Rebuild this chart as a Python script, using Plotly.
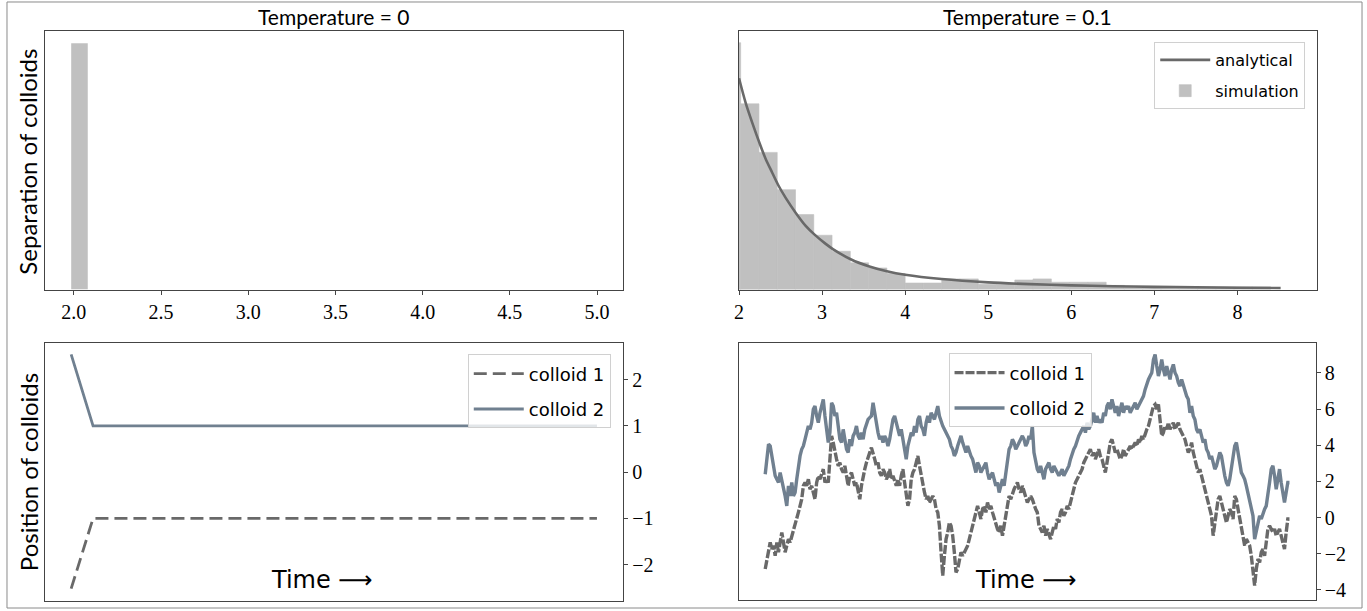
import numpy as np
import plotly.graph_objects as go

W, H = 1367, 611

# ---------------- data ----------------
# Temperature = 0 : separation histogram (single bin)
t0_bin_left = [1.985]
t0_bin_right = [2.080]
t0_height = [1.0]

# Temperature = 0.1 : separation histogram (bin edges and densities)
t01_edges = [1.80, 2.02, 2.24, 2.46, 2.68, 2.90, 3.12, 3.34, 3.56, 3.78, 4.00,
             4.22, 4.44, 4.66, 4.88, 5.10, 5.32, 5.54, 5.76, 5.98, 6.20, 6.42,
             6.64, 6.86, 7.08, 7.30, 7.52, 7.74, 7.96, 8.18, 8.40]
t01_density = [1.555, 1.170, 0.864, 0.629, 0.472, 0.342, 0.241, 0.168, 0.136, 0.101,
               0.041, 0.041, 0.067, 0.067, 0.033, 0.033, 0.060, 0.067, 0.046, 0.046,
               0.046, 0.026, 0.017, 0.017, 0.017, 0.017, 0.017, 0.017, 0.017, 0.017]

# analytical curve
ana_r = [2.0, 2.08, 2.16, 2.25, 2.32, 2.40, 2.47, 2.56, 2.69, 2.80, 2.91, 3.04, 3.13,
         3.35, 3.57, 3.78, 4.0, 4.44, 5.0, 5.5, 6.0, 6.5, 7.0, 7.5, 8.0, 8.52]
ana_p = [1.331, 1.176, 1.050, 0.918, 0.824, 0.736, 0.660, 0.579, 0.478, 0.403, 0.346,
         0.289, 0.255, 0.189, 0.145, 0.115, 0.093, 0.066, 0.045, 0.034, 0.026, 0.021,
         0.017, 0.014, 0.011, 0.009]

# Temperature = 0 : positions
pos1_t0 = [-2.52] + [-1.0] * 24
pos2_t0 = [2.55] + [1.0] * 24

# Temperature = 0.1 : positions
pos1_t01 = [
    -2.84, -2.29, -1.92, -1.37, -1.74, -1.55, -2.11, -1.37, -1.92, -1.19,
    -0.82, -1.37, -1.92, -1.55, -1.19, -1.37, -1.00, -0.63, -0.45, -0.08,
    0.29, 0.65, 1.02, 1.76, 1.94, 1.76, 2.12, 1.57, 1.76, 1.39,
    1.02, 1.94, 2.31, 2.12, 2.49, 2.68, 1.94, 2.12, 1.94, 3.23,
    4.52, 4.15, 3.60, 3.23, 2.86, 3.04, 2.68, 2.49, 2.86, 2.12,
    1.76, 2.31, 2.49, 2.12, 1.76, 1.94, 1.39, 1.02, 1.76, 2.31,
    2.68, 3.04, 3.41, 3.60,
    3.87, 3.60, 3.23, 2.86, 3.04, 2.49, 2.31, 2.68, 2.49, 2.12,
    2.31, 2.68, 2.12, 2.31, 1.94, 1.76, 2.12, 1.76, 2.31, 2.68,
    1.94, 1.20, 0.65, 1.02, 2.12, 2.49, 2.68, 3.04, 3.41, 2.86,
    2.31, 1.76, 1.39, 1.02, 1.20, 0.84, 1.02, 1.20, 1.02, 0.47,
    0.29, -0.45, -1.92, -3.21, -2.11, -1.19, -0.82, -0.27, -0.45, -1.00,
    -1.92, -3.03, -2.84, -2.29, -1.92, -2.11, -1.92, -1.74, -1.55, -1.19,
    -0.82, -0.63, -0.08, 0.29,
    0.65, 0.29, -0.08, 0.47, 0.65, 0.29, 0.84, 0.47, 0.65, 0.29,
    -0.08, -0.45, -0.63, -0.82, -0.45, -1.00, -0.45, -0.08, 0.65, 1.20,
    1.02, 1.39, 1.57, 1.76, 1.94, 1.57, 1.39, 1.76, 1.39, 1.20,
    0.84, 1.02, 1.20, 1.02, 0.65, 0.47, 0.29, -0.45, -0.63, -0.82,
    -0.45, -1.00, -0.63, -1.00, -1.19, -0.82, -0.45, -0.63, -0.08, -0.27,
    0.29, 0.47, 0.10, 0.29, 0.65, 0.47, 0.84, 1.20, 1.57, 1.94,
    2.12, 2.31, 2.49, 2.68,
    3.04, 3.23, 3.41, 3.60, 3.78, 3.41, 3.60, 3.23, 3.60, 3.78,
    3.41, 3.23, 2.86, 2.49, 3.04, 3.78, 4.15, 4.33, 3.96, 3.60,
    3.78, 3.41, 3.23, 3.41, 3.78, 3.41, 3.60, 3.78, 3.96, 3.78,
    3.96, 4.15, 3.96, 4.33, 4.15, 4.52, 4.33, 4.70, 4.88, 5.07,
    5.43, 5.80, 6.17, 6.26, 5.99, 6.26, 5.43, 4.52, 4.70, 5.07,
    4.88, 5.25, 4.88, 5.07, 5.25, 4.88, 5.07, 5.25, 4.88, 4.70,
    4.52, 4.33, 3.96, 3.60,
    3.78, 4.15, 3.60, 3.23, 2.86, 2.49, 2.68, 2.31, 1.94, 1.57,
    1.39, 1.02, 0.65, 0.10, -1.00, -0.27, 0.65, 1.02, 1.20, 0.84,
    0.47, 0.10, -0.27, 0.10, 0.47, 0.29, -0.08, 1.20, 1.02, 0.47,
    -0.08, -0.63, -1.19, -1.55, -1.19, -1.37, -1.55, -2.11, -2.84, -3.76,
    -2.84, -2.29, -2.48, -1.92, -1.74, -2.11, -1.37, -0.63, -0.45, -0.63,
    -0.82, -0.63, -1.00, -0.82, -0.63, -1.00, -1.37, -1.74, -0.82, -0.08,
    -0.08]

pos2_t01 = [
    2.40, 3.41, 4.06, 3.96, 3.41, 2.68, 2.31, 2.12, 1.94, 2.49,
    2.12, 1.57, 1.20, 0.65, 1.76, 1.20, 1.94, 1.20, 1.39, 2.12,
    2.86, 3.41, 3.78, 3.96, 4.33, 4.70, 5.07, 4.88, 5.25, 5.99,
    6.17, 5.62, 5.25, 5.80, 6.17, 6.54, 5.62, 4.88, 4.15, 4.70,
    6.35, 6.17, 5.62, 5.80, 5.07, 4.33, 4.15, 4.88, 4.33, 3.78,
    3.60, 4.33, 3.96, 4.52, 4.70, 5.07, 4.52, 4.33, 4.70, 4.33,
    4.88, 5.25, 5.43, 5.53,
    5.62, 6.35, 5.80, 5.07, 4.70, 4.33, 4.52, 4.15, 4.52, 4.33,
    3.96, 4.33, 5.07, 5.43, 5.62, 5.25, 4.88, 4.52, 4.88, 4.33,
    3.78, 3.23, 3.96, 4.33, 4.70, 4.52, 5.07, 4.70, 5.43, 5.62,
    5.07, 4.88, 4.52, 5.25, 5.62, 5.25, 5.80, 5.62, 5.43, 5.80,
    6.17, 5.62, 5.25, 5.07, 4.88, 4.70, 4.52, 4.33, 3.96, 3.78,
    3.41, 3.60, 3.96, 4.33, 4.52, 4.15, 3.78, 3.60, 3.96, 3.60,
    3.41, 3.23, 2.86, 2.49,
    3.04, 2.86, 2.49, 2.68, 2.86, 3.04, 2.49, 2.12, 2.31, 2.49,
    2.12, 1.76, 1.94, 1.39, 1.76, 2.12, 1.76, 2.49, 3.23, 3.78,
    3.96, 4.33, 4.15, 3.78, 3.96, 4.15, 4.33, 4.52, 4.33, 3.96,
    4.15, 4.52, 4.33, 5.07, 3.60, 3.04, 2.68, 2.49, 2.86, 2.49,
    2.12, 2.68, 2.86, 3.04, 2.68, 2.49, 2.86, 2.68, 2.49, 2.31,
    2.49, 2.68, 2.31, 2.49, 2.68, 2.86, 3.23, 3.60, 3.78, 3.96,
    4.33, 4.52, 4.70, 4.88,
    5.07, 4.70, 5.25, 4.88, 5.07, 5.43, 5.80, 5.25, 5.62, 5.25,
    5.43, 5.25, 5.80, 5.62, 6.17, 6.35, 5.99, 6.54, 6.17, 5.80,
    6.17, 5.62, 5.99, 6.35, 5.80, 6.17, 5.99, 6.17, 5.80, 5.99,
    6.17, 6.35, 5.99, 6.17, 6.35, 6.54, 6.72, 7.09, 7.46, 7.64,
    7.83, 8.01, 8.74, 9.02, 8.38, 7.83, 8.19, 8.74, 8.19, 7.83,
    8.38, 8.01, 7.64, 8.19, 8.47, 8.01, 7.83, 7.46, 7.27, 7.64,
    7.27, 6.91, 6.72, 6.54,
    5.80, 6.17, 5.62, 5.43, 4.88, 4.70, 4.88, 4.52, 4.15, 4.33,
    3.78, 3.60, 3.23, 3.41, 3.04, 2.68, 2.86, 3.23, 3.60, 3.41,
    2.68, 2.31, 1.94, 1.76, 2.12, 2.86, 3.60, 3.96, 4.15, 3.60,
    3.04, 2.49, 2.31, 2.12, 1.76, 1.39, 1.02, 0.65, 0.10, -1.19,
    -0.82, -0.45, 0.10, -0.08, 0.29, 0.47, 0.65, 1.20, 1.94, 2.68,
    2.86, 2.31, 1.57, 2.12, 2.68, 1.94, 1.20, 0.84, 1.39, 1.94,
    1.94]

top_left_ticks = [2.0, 2.5, 3.0, 3.5, 4.0, 4.5, 5.0]
top_right_ticks = [2, 3, 4, 5, 6, 7, 8]
bl_ticks = [-2, -1, 0, 1, 2]
br_ticks = [-4, -2, 0, 2, 4, 6, 8]

# ---------------- styles ----------------
SILVER = "#c0c0c0"
DIMGRAY = "#696969"
SLATE = "#708090"
AXC = "#444444"
SERIF = "Liberation Serif"
SANS = "Lato"
LEG = "DejaVu Sans"


def fx(px):
    return px / W


def fy(py):
    return 1 - py / H


def minus(v):
    return f"{v}".replace("-", "\u2212")


fig = go.Figure()

# top-left histogram
l0 = np.array(t0_bin_left)
r0 = np.array(t0_bin_right)
fig.add_trace(go.Bar(x=(l0 + r0) / 2, y=t0_height, width=r0 - l0,
                     marker=dict(color=SILVER, line=dict(width=0)),
                     showlegend=False, xaxis="x", yaxis="y", hoverinfo="skip"))

# top-right histogram + analytical
e = np.array(t01_edges)
fig.add_trace(go.Bar(x=(e[:-1] + e[1:]) / 2, y=t01_density, width=np.diff(e),
                     marker=dict(color=SILVER, line=dict(width=0.6, color=SILVER)),
                     name="simulation", legend="legend", legendgroup="s", legendrank=2,
                     xaxis="x2", yaxis="y2"))
fig.add_trace(go.Scatter(x=ana_r, y=ana_p, mode="lines",
                         line=dict(color=DIMGRAY, width=2.6, shape="spline", smoothing=0.8),
                         name="analytical", legend="legend", legendgroup="a", legendrank=1,
                         xaxis="x2", yaxis="y2"))

# bottom-left
t_a = np.arange(len(pos1_t0))
fig.add_trace(go.Scatter(x=t_a, y=pos1_t0, mode="lines",
                         line=dict(color=DIMGRAY, width=2.8, dash="13px,6px"),
                         name="colloid 1", legend="legend2", legendgroup="a1",
                         xaxis="x3", yaxis="y3"))
fig.add_trace(go.Scatter(x=t_a, y=pos2_t0, mode="lines",
                         line=dict(color=SLATE, width=2.8),
                         name="colloid 2", legend="legend2", legendgroup="a2",
                         xaxis="x3", yaxis="y3"))

# bottom-right
t_b1 = np.arange(len(pos1_t01))
t_b2 = np.arange(len(pos2_t01))
fig.add_trace(go.Scatter(x=t_b1, y=pos1_t01, mode="lines",
                         line=dict(color=DIMGRAY, width=3.4, dash="9px,2px"),
                         name="colloid 1", legend="legend3", legendgroup="b1",
                         xaxis="x4", yaxis="y4"))
fig.add_trace(go.Scatter(x=t_b2, y=pos2_t01, mode="lines",
                         line=dict(color=SLATE, width=3.4),
                         name="colloid 2", legend="legend3", legendgroup="b2",
                         xaxis="x4", yaxis="y4"))

common = dict(showline=True, mirror=True, linecolor=AXC, linewidth=1,
              showgrid=False, zeroline=False)
tickfont = dict(family=SERIF, size=20, color="black")
legbox = dict(bgcolor="rgba(255,255,255,0.8)", bordercolor="#d0d0d0", borderwidth=1,
              traceorder="grouped", itemwidth=50)

n_b = len(pos1_t01) - 1
n_a = len(pos1_t0) - 1


def ann(text, x, y, size, family, angle=0):
    return dict(text=text, x=fx(x), y=fy(y), xref="paper", yref="paper",
                xanchor="center", yanchor="middle", textangle=angle, showarrow=False,
                font=dict(family=family, size=size, color="black"))


layout = dict(
    width=W, height=H, margin=dict(l=0, r=0, t=0, b=0),
    paper_bgcolor="white", plot_bgcolor="white", barmode="overlay",
    xaxis=dict(domain=[fx(40), fx(620.5)], range=[1.834, 5.15], anchor="y",
               tickvals=top_left_ticks, ticktext=[f"{v:.1f}" for v in top_left_ticks],
               ticks="outside", ticklen=4, tickcolor=AXC, tickfont=tickfont, **common),
    yaxis=dict(domain=[fy(290), fy(31)], range=[0, 1.05], anchor="x",
               showticklabels=False, ticks="", **common),
    xaxis2=dict(domain=[fx(736.7), fx(1317)], range=[2, 8.96], anchor="y2",
                tickvals=top_right_ticks, ticktext=[str(v) for v in top_right_ticks],
                ticks="outside", ticklen=4, tickcolor=AXC, tickfont=tickfont, **common),
    yaxis2=dict(domain=[fy(290), fy(31)], range=[0, 1.629], anchor="x2",
                showticklabels=False, ticks="", **common),
    xaxis3=dict(domain=[fx(40), fx(620.5)], range=[-0.05 * n_a, 1.05 * n_a], anchor="y3",
                showticklabels=False, ticks="", **common),
    yaxis3=dict(domain=[fy(601.7), fy(343.3)], range=[-2.78, 2.80], anchor="x3",
                side="right", tickvals=bl_ticks, ticktext=[minus(v) for v in bl_ticks],
                ticks="outside", ticklen=4, tickcolor=AXC, tickfont=tickfont, **common),
    xaxis4=dict(domain=[fx(736.7), fx(1315.5)], range=[-0.05 * n_b, 1.05 * n_b], anchor="y4",
                showticklabels=False, ticks="", **common),
    yaxis4=dict(domain=[fy(600.7), fy(343.3)], range=[-4.54, 9.67], anchor="x4",
                side="right", tickvals=br_ticks, ticktext=[minus(v) for v in br_ticks],
                ticks="outside", ticklen=4, tickcolor=AXC, tickfont=tickfont, **common),
    legend=dict(x=fx(1305), y=fy(42), xanchor="right", yanchor="top",
                font=dict(family=LEG, size=16, color="black"), tracegroupgap=7, **legbox),
    legend2=dict(x=fx(608), y=fy(355), xanchor="right", yanchor="top",
                 font=dict(family=LEG, size=18, color="black"), tracegroupgap=9, **legbox),
    legend3=dict(x=fx(947), y=fy(354), xanchor="left", yanchor="top",
                 font=dict(family=LEG, size=18, color="black"), tracegroupgap=9, **legbox),
    shapes=[dict(type="rect", xref="paper", yref="paper",
                 x0=fx(2), x1=fx(1362), y0=fy(609), y1=fy(2),
                 line=dict(color="#8a8a8a", width=1), fillcolor="rgba(0,0,0,0)",
                 layer="below")],
    annotations=[
        ann("Temperature = 0", 330, 17, 21, SANS),
        ann("Temperature = 0.1", 1026, 17, 21, SANS),
        ann("Separation of colloids", 23, 162, 24, SANS, -90),
        ann("Position of colloids", 23, 473, 24, SANS, -90),
        ann("Time \u27f6", 318, 581, 24, "DejaVu Sans"),
        ann("Time \u27f6", 1025, 581, 24, "DejaVu Sans"),
    ],
)
fig.update_layout(layout)
fig.write_html("out.html", config={"displayModeBar": False},
               post_script="document.body.style.margin='0';document.body.style.overflow='hidden';")
